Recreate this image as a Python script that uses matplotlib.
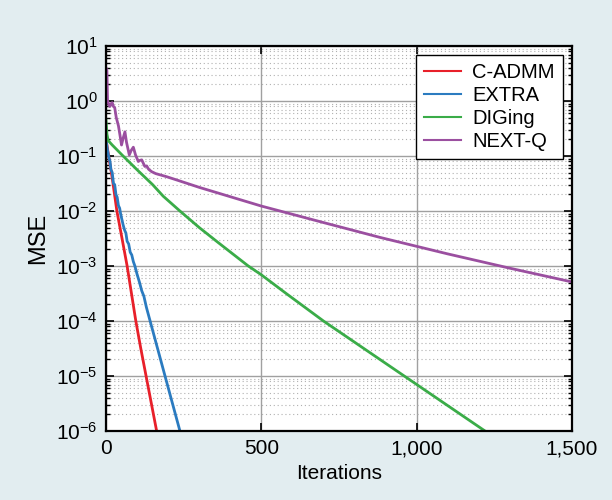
import numpy as np
import matplotlib
matplotlib.use("Agg")
import matplotlib.pyplot as plt
from matplotlib.ticker import LogLocator, FixedLocator, NullFormatter

plt.rcParams['font.family'] = ['Liberation Sans', 'DejaVu Sans']
plt.rcParams['mathtext.fontset'] = 'custom'
plt.rcParams['mathtext.rm'] = 'Liberation Sans'
plt.rcParams['mathtext.it'] = 'Liberation Sans'
plt.rcParams['mathtext.default'] = 'regular'

# iterations and log10(MSE)
cadmm_it = [0, 10, 20, 35, 50, 68, 82, 96, 112, 129, 146, 163]
cadmm_log = [-0.70, -1.05, -1.40, -2.00, -2.45, -3.00, -3.50, -4.00, -4.50, -5.00, -5.50, -6.00]

extra_it = [0, 5, 10, 13, 16, 20, 24, 28, 32, 36, 40, 44, 47, 51, 55, 60, 64, 68, 73,
            78, 83, 88, 93, 100, 108, 115, 122, 130, 142, 154, 166, 178, 190, 202,
            214, 226, 238]
extra_log = [-0.70, -0.90, -1.05, -1.10, -1.25, -1.30, -1.50, -1.52, -1.70, -1.75,
             -1.90, -1.95, -2.05, -2.15, -2.25, -2.35, -2.40, -2.55, -2.60, -2.75,
             -2.80, -2.92, -3.00, -3.15, -3.30, -3.45, -3.55, -3.75, -4.00, -4.25,
             -4.50, -4.75, -5.00, -5.25, -5.50, -5.75, -6.00]

diging_it = [0, 3, 7, 20, 55, 100, 150, 184, 238, 300, 358, 458, 500, 580, 700,
             830, 960, 1090, 1220]
diging_log = [-0.35, -0.60, -0.72, -0.80, -1.00, -1.25, -1.52, -1.73, -2.00, -2.30,
              -2.56, -3.00, -3.16, -3.50, -4.00, -4.50, -5.00, -5.50, -6.00]

nextq_it = [0, 3, 5, 8, 12, 16, 20, 24, 28, 33, 40, 45, 50, 55, 61, 66, 75, 81, 88,
            95, 104, 109, 115, 125, 131, 137, 147, 160, 195, 238, 300, 400, 500,
            700, 882, 1100, 1300, 1500]
nextq_log = [0.60, 0.55, 0.00, -0.05, -0.10, -0.05, -0.03, -0.10, -0.12, -0.30,
             -0.45, -0.62, -0.80, -0.68, -0.56, -0.75, -0.98, -0.90, -0.84, -0.98,
             -1.10, -1.08, -1.07, -1.19, -1.18, -1.24, -1.285, -1.32, -1.376,
             -1.455, -1.57, -1.74, -1.91, -2.21, -2.48, -2.78, -3.04, -3.29]

labels = ['C-ADMM', 'EXTRA', 'DIGing', 'NEXT-Q']
colors = ['#e8202a', '#2b7bc0', '#3aac48', '#9b4fa0']
x_ticks = [0, 500, 1000, 1500]
x_ticklabels = ['0', '500', '1,000', '1,500']

fig = plt.figure(figsize=(6.12, 5.0), dpi=100, facecolor='#e2edf0')
ax = fig.add_axes([0.1732, 0.138, 0.7614, 0.770])
ax.set_facecolor('white')

series = [(cadmm_it, cadmm_log), (extra_it, extra_log),
          (diging_it, diging_log), (nextq_it, nextq_log)]
for (it, lg), lab, col in zip(series, labels, colors):
    ax.plot(it, 10.0 ** np.array(lg), color=col, lw=2.0, label=lab, zorder=3)

ax.set_yscale('log')
ax.set_xlim(0, 1500)
ax.set_ylim(1e-6, 1e1)
ax.xaxis.set_major_locator(FixedLocator(x_ticks))
ax.set_xticklabels(x_ticklabels)
ax.yaxis.set_major_locator(LogLocator(base=10, numticks=20))
ax.yaxis.set_minor_locator(LogLocator(base=10, subs=np.arange(2, 10), numticks=20))
ax.yaxis.set_minor_formatter(NullFormatter())

ax.grid(True, which='major', color='#a0a0a0', lw=1.0, ls='-', zorder=1)
ax.grid(True, which='minor', axis='y', color='#b0b0b0', lw=0.8, ls=(0, (1, 2.5)), zorder=1)

ax.tick_params(which='both', direction='in', top=True, right=True, colors='black',
               labelsize=15, pad=6)
ax.tick_params(which='major', length=6, width=1.2)
ax.tick_params(which='minor', length=3, width=1.0)
for sp in ax.spines.values():
    sp.set_linewidth(1.6)
    sp.set_zorder(4)

ax.set_xlabel('Iterations', fontsize=15, labelpad=4)
ax.set_ylabel('MSE', fontsize=17, labelpad=5)

leg = ax.legend(loc='upper right', fontsize=14.5, frameon=True, fancybox=False,
                edgecolor='black', framealpha=1, handlelength=1.85,
                borderaxespad=0.45, labelspacing=0.2, borderpad=0.4,
                handletextpad=0.55)
leg.get_frame().set_linewidth(1.0)
for line in leg.get_lines():
    line.set_linewidth(1.5)

fig.savefig('out.png', dpi=100, facecolor=fig.get_facecolor())
